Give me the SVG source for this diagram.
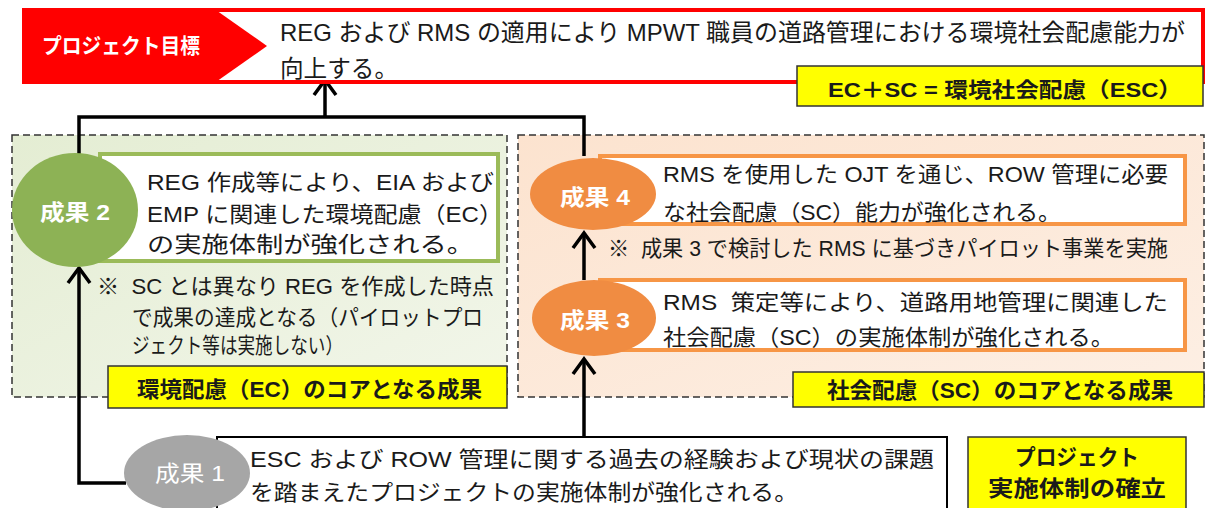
<svg xmlns="http://www.w3.org/2000/svg" width="1208" height="508" viewBox="0 0 1208 508">
<defs>
<style>
text{font-family:"Liberation Sans","Noto Sans CJK JP",sans-serif;white-space:pre;fill:#1a1a1a}
.t24{font-size:24px}
.t22{font-size:22px}
.t21{font-size:21.5px}
.b{font-weight:bold}
.w{fill:#fff}
.panel{stroke:#333;stroke-width:1.5;stroke-dasharray:7 4}
.yl{fill:#ffff00;stroke:#333;stroke-width:1.5}
.gbox{fill:#fff;stroke:#9bbb59;stroke-width:4}
.obox{fill:#fff;stroke:#f79646;stroke-width:4}
.conn{fill:none;stroke:#000;stroke-width:3.5}
</style>
<linearGradient id="gG" x1="0" y1="0" x2="1" y2="1">
<stop offset="0" stop-color="#e4edd3"/><stop offset="1" stop-color="#f2f6ea"/>
</linearGradient>
<linearGradient id="gO" x1="0" y1="0" x2="1" y2="1">
<stop offset="0" stop-color="#fce3cf"/><stop offset="1" stop-color="#fdefe4"/>
</linearGradient>
<marker id="arr" viewBox="-20 -14 24 28" markerWidth="24" markerHeight="28" refX="0" refY="0" orient="auto" markerUnits="userSpaceOnUse">
<path d="M-15,-11 L0,0 L-15,11" fill="none" stroke="#000" stroke-width="3.5"/>
</marker>
</defs>
<rect width="1208" height="508" fill="#fff"/>

<g id="panel-ec">
<rect class="panel" x="12" y="135" width="495" height="262" fill="url(#gG)"/>
</g>
<g id="panel-sc">
<rect class="panel" x="518" y="135" width="686" height="262" fill="url(#gO)"/>
</g>

<g id="connectors">
<path class="conn" d="M79,154 V117 H584 V156"/>
<path class="conn" d="M325,117 V80" marker-end="url(#arr)"/>
<path class="conn" d="M126,483 H79 V268" marker-end="url(#arr)"/>
<path class="conn" d="M584,280 V233" marker-end="url(#arr)"/>
<path class="conn" d="M584,437 V359" marker-end="url(#arr)"/>
</g>

<g id="goal">
<rect x="200" y="10" width="1003" height="72" fill="#fff" stroke="#ff0000" stroke-width="4"/>
<polygon points="22,8 213,8 267,46 213,84 22,84" fill="#ff0000"/>
<text class="b w" x="42" y="53" font-size="21" textLength="158" lengthAdjust="spacingAndGlyphs">プロジェクト目標</text>
<text class="t24" x="280" y="41" textLength="905" lengthAdjust="spacingAndGlyphs">REG および RMS の適用により MPWT 職員の道路管理における環境社会配慮能力が</text>
<text class="t24" x="280" y="77" textLength="118" lengthAdjust="spacingAndGlyphs">向上する。</text>
</g>

<g id="esc-label">
<rect class="yl" x="797" y="66" width="406" height="40"/>
<text class="b" x="828" y="97" font-size="21" textLength="354" lengthAdjust="spacingAndGlyphs">EC＋SC = 環境社会配慮（ESC）</text>
</g>

<g id="output2">
<rect class="gbox" x="100" y="154" width="398" height="107"/>
<ellipse cx="75" cy="210" rx="63" ry="57" fill="#8db255"/>
<text class="t22 b w" x="40" y="220" textLength="70" lengthAdjust="spacingAndGlyphs">成果 2</text>
<text class="t22" x="147" y="190" textLength="347" lengthAdjust="spacingAndGlyphs">REG 作成等により、EIA および</text>
<text class="t22" x="147" y="222" textLength="356" lengthAdjust="spacingAndGlyphs">EMP に関連した環境配慮（EC）</text>
<text class="t22" x="147" y="252" textLength="327" lengthAdjust="spacingAndGlyphs">の実施体制が強化される。</text>
</g>

<g id="note2">
<text class="t21" x="97" y="294" textLength="397" lengthAdjust="spacingAndGlyphs">※  SC とは異なり REG を作成した時点</text>
<text class="t21" x="132" y="325" textLength="351" lengthAdjust="spacingAndGlyphs">で成果の達成となる（パイロットプロ</text>
<text class="t21" x="132" y="353" textLength="211" lengthAdjust="spacingAndGlyphs">ジェクト等は実施しない）</text>
</g>

<g id="ec-label">
<rect class="yl" x="108" y="366" width="399" height="42"/>
<text class="t22 b" x="137" y="397" textLength="345" lengthAdjust="spacingAndGlyphs">環境配慮（EC）のコアとなる成果</text>
</g>

<g id="output4">
<rect class="obox" x="600" y="156" width="585" height="68"/>
<ellipse cx="593" cy="194" rx="63" ry="36" fill="#f08c42"/>
<text class="t22 b w" x="560" y="205" textLength="70" lengthAdjust="spacingAndGlyphs">成果 4</text>
<text class="t22" x="663" y="182" textLength="505" lengthAdjust="spacingAndGlyphs">RMS を使用した OJT を通じ、ROW 管理に必要</text>
<text class="t22" x="663" y="220" textLength="398" lengthAdjust="spacingAndGlyphs">な社会配慮（SC）能力が強化される。</text>
</g>

<g id="note4">
<text class="t21" x="608" y="256" textLength="560" lengthAdjust="spacingAndGlyphs">※  成果 3 で検討した RMS に基づきパイロット事業を実施</text>
</g>

<g id="output3">
<rect class="obox" x="600" y="280" width="585" height="70"/>
<ellipse cx="594" cy="318" rx="62" ry="38" fill="#f08c42"/>
<text class="t22 b w" x="560" y="328" textLength="70" lengthAdjust="spacingAndGlyphs">成果 3</text>
<text class="t22" x="663" y="310" textLength="505" lengthAdjust="spacingAndGlyphs">RMS  策定等により、道路用地管理に関連した</text>
<text class="t22" x="663" y="345" textLength="451" lengthAdjust="spacingAndGlyphs">社会配慮（SC）の実施体制が強化される。</text>
</g>

<g id="sc-label">
<rect class="yl" x="793" y="372" width="411" height="35"/>
<text class="t22 b" x="827" y="398" textLength="346" lengthAdjust="spacingAndGlyphs">社会配慮（SC）のコアとなる成果</text>
</g>

<g id="output1">
<rect x="217" y="437" width="730" height="90" fill="#fff" stroke="#000" stroke-width="2"/>
<ellipse cx="187" cy="473" rx="63" ry="38" fill="#a6a6a6"/>
<text class="t22 w" x="155" y="481" textLength="70" lengthAdjust="spacingAndGlyphs">成果 1</text>
<text class="t22" x="250" y="467" textLength="684" lengthAdjust="spacingAndGlyphs">ESC および ROW 管理に関する過去の経験および現状の課題</text>
<text class="t22" x="250" y="500" textLength="548" lengthAdjust="spacingAndGlyphs">を踏まえたプロジェクトの実施体制が強化される。</text>
</g>

<g id="project-label">
<rect class="yl" x="968" y="437" width="218" height="90"/>
<text class="t22 b" x="1015" y="465" textLength="124" lengthAdjust="spacingAndGlyphs">プロジェクト</text>
<text class="t22 b" x="988" y="496" textLength="178" lengthAdjust="spacingAndGlyphs">実施体制の確立</text>
</g>
</svg>
